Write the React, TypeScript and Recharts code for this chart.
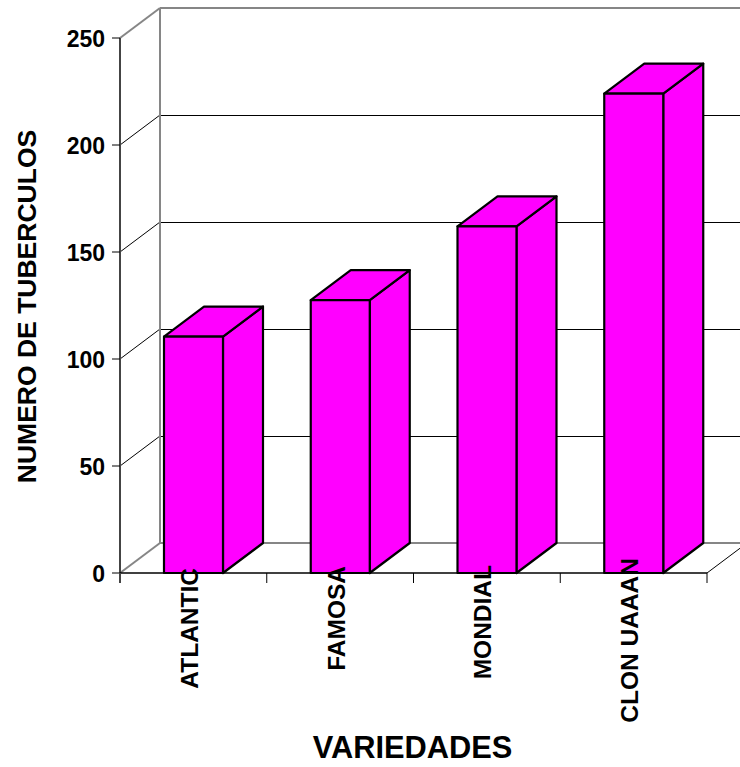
import React from "react";
import { BarChart, Bar, XAxis, YAxis, CartesianGrid } from "recharts";

const varieties = ["ATLANTIC", "FAMOSA", "MONDIAL", "CLON UAAAN"];
const tuberCounts = [110.5, 127.5, 162, 224];
const countTicks = [0, 50, 100, 150, 200, 250];

const WIDTH = 740;
const HEIGHT = 767;
const MARGIN = { top: 38, right: 33, bottom: 0, left: 20 };
const AXIS_W = 100;
const AXIS_H = 194;
const PLOT_W = WIDTH - MARGIN.left - MARGIN.right - AXIS_W;
const DX = 40;
const DY = 30;
const FONT = "'Liberation Sans', Arial, sans-serif";
const WALL = "#868686";
const FILL = "#ff00ff";
// Upward shift of each rotated category label, in pixels.
const LABEL_LIFT = [0, 2, 3, 10];

// Three visible faces of an extruded column.
function Column(props: any) {
  const { x, y, width, height } = props;
  const r = x + width;
  const b = y + height;
  const common = { fill: FILL, stroke: "#000", strokeWidth: 2.2, strokeLinejoin: "round" as const };
  return (
    <g>
      <polygon {...common} points={`${r},${y} ${r + DX},${y - DY} ${r + DX},${b - DY} ${r},${b}`} />
      <polygon {...common} points={`${x},${y} ${x + DX},${y - DY} ${r + DX},${y - DY} ${r},${y}`} />
      <rect {...common} x={x} y={y} width={width} height={height} />
    </g>
  );
}

// Each value gets a line on the back wall joined to the axis by a diagonal on the side wall.
function WallLine(props: any) {
  const { x1, x2, y1 } = props;
  const isTop = y1 === MARGIN.top;
  const isFloor = Math.abs(y1 - (HEIGHT - AXIS_H)) < 1;
  const heavy = isTop || isFloor;
  const stroke = heavy ? WALL : "#000";
  const sw = heavy ? 2 : 1;
  return (
    <g>
      <line x1={x1} y1={y1} x2={x1 + DX} y2={y1 - DY} stroke={stroke} strokeWidth={sw} />
      <line
        x1={x1 + DX}
        y1={y1 - DY}
        x2={x2 + DX}
        y2={y1 - DY}
        stroke={stroke}
        strokeWidth={sw}
        shapeRendering="crispEdges"
      />
      {isTop && (
        <line x1={x1 + DX} y1={y1 - DY} x2={x1 + DX} y2={HEIGHT - AXIS_H - DY} stroke={WALL} strokeWidth={2} />
      )}
      {isFloor && <line x1={x2} y1={y1} x2={x2 + DX} y2={y1 - DY} stroke="#000" strokeWidth={1} />}
    </g>
  );
}

function CategoryTick(props: any) {
  const { x, y, payload, index } = props;
  const slot = PLOT_W / varieties.length;
  return (
    <g>
      {index === 0 && <line x1={x - slot / 2} y1={y} x2={x - slot / 2} y2={y + 10} stroke="#444" strokeWidth={2} />}
      <line x1={x + slot / 2} y1={y} x2={x + slot / 2} y2={y + 10} stroke="#000" strokeWidth={1} />
      <text
        transform={`translate(${x + 4.5},${y - 5 - LABEL_LIFT[index]}) rotate(-90)`}
        textAnchor="end"
        fontFamily={FONT}
        fontWeight={700}
        fontSize={24.5}
        fill="#000"
      >
        {payload.value}
      </text>
    </g>
  );
}

const chartData = varieties.map((name, i) => ({ name, count: tuberCounts[i] }));

export default function App() {
  return (
    <div style={{ position: "absolute", left: 0, top: 0, width: WIDTH, height: HEIGHT, background: "#fff" }}>
      <BarChart width={WIDTH} height={HEIGHT} data={chartData} margin={MARGIN} barSize={59}>
        <CartesianGrid vertical={false} horizontal={(p: any) => <WallLine key={p.key ?? p.index} {...p} />} />
        <YAxis
          width={AXIS_W}
          domain={[0, 250]}
          ticks={countTicks}
          interval={0}
          axisLine={{ stroke: "#444", strokeWidth: 2 }}
          tickLine={{ stroke: "#000", strokeWidth: 1 }}
          tickSize={8}
          tickMargin={7}
          tick={{ fontFamily: FONT, fontWeight: 700, fontSize: 23, fill: "#000", dy: 1 }}
          label={{
            value: "NUMERO DE TUBERCULOS",
            angle: -90,
            position: "insideLeft",
            offset: 0,
            dx: 7,
            dy: 1,
            style: { fontFamily: FONT, fontWeight: 700, fontSize: 26.5, fill: "#000", textAnchor: "middle" },
          }}
        />
        <Bar dataKey="count" shape={<Column />} isAnimationActive={false} />
        <XAxis
          dataKey="name"
          height={AXIS_H}
          interval={0}
          tickLine={false}
          tickSize={0}
          tickMargin={0}
          axisLine={{ stroke: "#000", strokeWidth: 1.5 }}
          tick={<CategoryTick />}
          label={{
            value: "VARIEDADES",
            position: "insideBottom",
            offset: 9,
            dx: -1,
            style: { fontFamily: FONT, fontWeight: 700, fontSize: 30.8, fill: "#000" },
          }}
        />
      </BarChart>
    </div>
  );
}
